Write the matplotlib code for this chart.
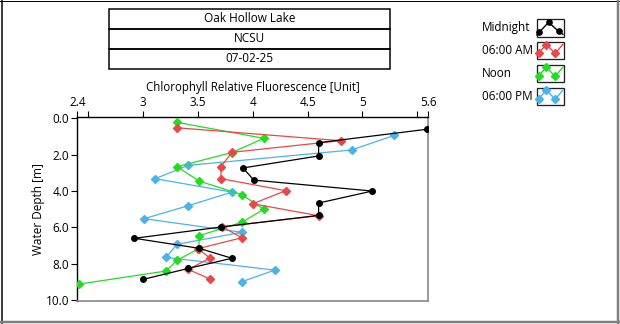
import numpy as np
import matplotlib
matplotlib.use("Agg")
import matplotlib.pyplot as plt
from matplotlib.patches import Rectangle

plt.rcParams['font.family'] = ['Open Sans', 'DejaVu Sans']

# profile readings: fluorescence vs depth for each sampling time
midnight_fl = [5.59, 4.60, 4.60, 3.91, 4.01, 5.09, 4.60, 4.60, 3.71, 2.92, 3.51, 3.81, 3.41, 3.00]
midnight_depth = [0.60, 1.34, 2.07, 2.73, 3.40, 4.00, 4.66, 5.34, 5.98, 6.60, 7.15, 7.70, 8.26, 8.86]

am6_fl = [3.31, 4.80, 3.81, 3.71, 3.71, 4.30, 4.00, 4.60, 3.72, 3.90, 3.50, 3.61, 3.41, 3.61]
am6_depth = [0.52, 1.23, 1.87, 2.66, 3.32, 3.98, 4.70, 5.36, 5.96, 6.57, 7.17, 7.69, 8.31, 8.84]

noon_fl = [3.31, 4.10, 3.81, 3.31, 3.51, 3.90, 4.10, 3.90, 3.51, 3.51, 3.31, 3.21, 2.415]
noon_depth = [0.22, 1.10, 1.88, 2.66, 3.45, 4.20, 5.00, 5.72, 6.46, 7.17, 7.80, 8.40, 9.12]

pm6_fl = [5.29, 4.90, 3.41, 3.11, 3.81, 3.41, 3.01, 3.90, 3.31, 3.21, 4.20, 3.90]
pm6_depth = [0.94, 1.74, 2.59, 3.32, 4.06, 4.81, 5.52, 6.27, 6.93, 7.65, 8.35, 8.99]

series_names = ["Midnight", "06:00 AM", "Noon", "06:00 PM"]
colors = ["#000000", "#e84848", "#22dd22", "#4ab4ea"]
markers = ["o", "D", "D", "D"]

title_lines = ["Oak Hollow Lake", "NCSU", "07-02-25"]

x_ticks = [2.4, 2.5, 3, 3.5, 4, 4.5, 5, 5.5, 5.6]
x_labels = ["2.4", "", "3", "3.5", "4", "4.5", "5", "", "5.6"]
y_ticks = [0, 2, 4, 6, 8, 10]
y_labels = ["0.0", "2.0", "4.0", "6.0", "8.0", "10.0"]

W, H = 620, 324
fig = plt.figure(figsize=(W / 100, H / 100), dpi=100)
fig.patch.set_facecolor("white")

# pixel-space overlay for the window frame, title boxes and legend
frame = fig.add_axes([0, 0, 1, 1], zorder=0)
frame.set_xlim(0, W)
frame.set_ylim(H, 0)
frame.axis("off")

px = 0.72  # one pixel in points
frame.plot([0, W], [0.5, 0.5], color="black", lw=px)
frame.plot([1.5, 1.5], [0, H], color="black", lw=1.5 * px)
frame.plot([617.5, 617.5], [0, H], color="#808080", lw=2.5 * px)
frame.plot([0, W], [322, 322], color="#808080", lw=2.5 * px)

# stacked title boxes
box_x0, box_x1 = 109, 390
row_tops = [8.5, 29, 48.5]
row_h = [20.5, 19.5, 20]
for top, h, txt in zip(row_tops, row_h, title_lines):
    frame.add_patch(Rectangle((box_x0, top), box_x1 - box_x0, h, fill=False,
                              edgecolor="black", lw=1.5 * px))
    frame.text((box_x0 + box_x1) / 2, top + h / 2, txt, ha="center", va="center",
               fontsize=8.5)

# legend with small icon boxes
icon_shapes = [
    ([0.09, 0.45, 0.82], [0.77, 0.19, 0.71], [0.0, 0.09, 0.45, 0.82, 1.0], [0.95, 0.77, 0.19, 0.71, 0.9]),
    ([0.08, 0.37, 0.69], [0.62, 0.15, 0.66], [0.0, 0.08, 0.37, 0.69, 1.0], [0.75, 0.62, 0.15, 0.66, 0.1]),
]
for i, (name, col) in enumerate(zip(series_names, colors)):
    cy = 27.5 + i * 22.9
    frame.text(482, cy, name, ha="left", va="center", fontsize=8.5)
    bx, by, bw, bh = 536.5, cy - 8.5, 27, 17.5
    frame.add_patch(Rectangle((bx, by), bw, bh, fill=False, edgecolor="#202020", lw=1.3 * px))
    mx, my, lx, ly = icon_shapes[0] if i == 0 else icon_shapes[1]
    frame.plot([bx + bw * v for v in lx], [by + bh * v for v in ly], color=col, lw=1.0,
               solid_capstyle="butt", clip_on=False)
    frame.plot([bx + bw * v for v in mx], [by + bh * v for v in my], ls="none",
               marker="o" if i == 0 else "D", ms=3.8 if i == 0 else 3.8,
               color=col, mec=col)

# main profile plot
ax = fig.add_axes([77.3 / W, 1 - 301 / H, 351 / W, 184.3 / H], zorder=2)
ax.set_facecolor("white")

profiles = [
    (pm6_fl, pm6_depth, 3),
    (noon_fl, noon_depth, 2),
    (am6_fl, am6_depth, 1),
    (midnight_fl, midnight_depth, 0),
]
for fl, depth, k in profiles:
    ax.plot(fl, depth, color=colors[k], lw=0.9, marker=markers[k],
            ms=4.0 if k == 0 else 3.8, mec=colors[k], mfc=colors[k], zorder=3 + (3 - k))

ax.set_xlim(2.4, 5.6)
ax.set_ylim(10.05, -0.09)

ax.xaxis.tick_top()
ax.xaxis.set_label_position("top")
ax.set_xticks(x_ticks)
ax.set_xticklabels(x_labels)
ax.set_yticks(y_ticks)
ax.set_yticklabels(y_labels)
ax.tick_params(axis="both", direction="out", length=4.3, width=0.8, labelsize=8.5,
               color="black", pad=1.5)
ax.set_xlabel("Chlorophyll Relative Fluorescence [Unit]", fontsize=8.3, labelpad=3)
ax.set_ylabel("Water Depth [m]", fontsize=8.5, labelpad=0.5)

for side in ("top", "left"):
    ax.spines[side].set_color("black")
    ax.spines[side].set_linewidth(1.0)
for side in ("bottom", "right"):
    ax.spines[side].set_color("#888888")
    ax.spines[side].set_linewidth(1.2)

fig.savefig("out.png", dpi=100)
